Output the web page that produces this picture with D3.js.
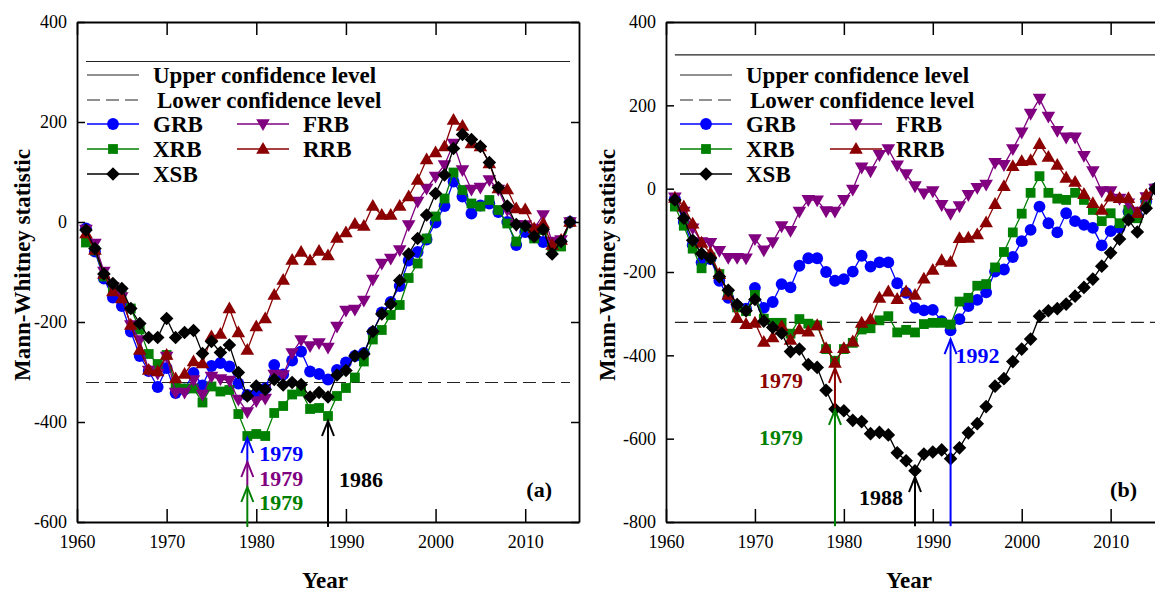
<!DOCTYPE html>
<html>
<head>
<meta charset="utf-8">
<script src="https://cdn.jsdelivr.net/npm/d3@7/dist/d3.min.js"></script>
<style>
  body { margin: 0; background: #fff; }
  svg text { font-family: "Liberation Serif", "Times New Roman", serif; }
</style>
</head>
<body>
<svg id="chart" width="1155" height="594"></svg>
<script>
// ---- data ----
const years = d3.range(1961, 2016);

// panel (a)
const grbA = [-13, -59, -113, -151, -168, -219, -268, -298, -330, -292, -342, -335, -302, -327, -288, -282, -289, -323, -346, -346,
  -333, -286, -305, -277, -259, -299, -304, -315, -296, -281, -268, -262, -220, -181, -160, -128, -77, -60, -35, -1,
  32, 81, 51, 17, 33, 37, 20, 0, -46, -20, -30, -40, -45, -40, 0];
const xrbA = [-41, -57, -109, -136, -139, -173, -215, -264, -284, -266, -326, -333, -333, -361, -329, -339, -336, -384, -428, -424,
  -428, -382, -368, -345, -339, -374, -372, -388, -348, -332, -311, -279, -235, -216, -186, -166, -112, -83, -33, 11,
  47, 99, 64, 37, 31, 44, 24, -3, -39, -9, -33, -16, -49, -49, 0];
const xsbA = [-16, -53, -104, -123, -133, -173, -203, -231, -231, -193, -231, -221, -217, -263, -239, -261, -246, -301, -348, -328,
  -335, -315, -326, -321, -325, -350, -341, -350, -306, -297, -268, -264, -219, -184, -164, -117, -64, -33, 14, 57,
  94, 147, 175, 165, 151, 119, 69, 32, -5, -8, -29, -15, -64, -39, 0];
const frbA = [-15, -43, -99, -130, -150, -206, -236, -297, -303, -269, -341, -341, -316, -345, -309, -314, -317, -355, -380, -358,
  -353, -305, -306, -262, -236, -248, -242, -251, -209, -177, -175, -157, -115, -83, -73, -56, -6, 41, 67, 91,
  114, 157, 104, 65, 69, 84, 65, 24, -6, -6, -13, 14, -39, -36, 0];
const rrbA = [-23, -56, -104, -139, -153, -206, -256, -296, -299, -266, -313, -304, -279, -283, -229, -224, -173, -221, -256, -209,
  -193, -146, -116, -76, -60, -77, -58, -67, -32, -21, -4, -8, 32, 14, 14, 32, 51, 84, 125, 139,
  151, 204, 192, 157, 151, 117, 67, 65, 27, 25, -13, -3, -46, -36, 0];

// panel (b)
const grbB = [-24, -80, -135, -177, -169, -221, -262, -282, -288, -238, -286, -272, -229, -237, -185, -167, -167, -200, -221, -217,
  -199, -161, -187, -177, -177, -227, -250, -286, -292, -291, -318, -340, -313, -282, -267, -249, -199, -194, -164, -126,
  -99, -43, -83, -105, -59, -78, -87, -94, -136, -102, -94, -55, -65, -30, 0];
const xrbB = [-43, -89, -144, -191, -165, -205, -250, -285, -294, -255, -312, -322, -322, -348, -313, -324, -328, -385, -413, -385,
  -370, -338, -335, -316, -306, -345, -339, -345, -325, -322, -322, -326, -271, -262, -233, -229, -189, -152, -105, -60,
  -10, 30, -10, -24, -27, -10, -27, -51, -78, -59, -83, -51, -71, -35, 0];
const xsbB = [-27, -71, -124, -156, -167, -211, -244, -278, -293, -266, -318, -333, -347, -391, -385, -422, -429, -484, -529, -533,
  -556, -559, -588, -585, -591, -634, -653, -677, -637, -632, -627, -648, -622, -586, -564, -523, -474, -456, -415, -385,
  -361, -306, -293, -288, -277, -258, -237, -217, -186, -154, -121, -75, -104, -47, 0];
const frbB = [-21, -55, -95, -128, -130, -149, -166, -166, -167, -121, -148, -128, -90, -101, -55, -27, -28, -54, -55, -27,
  -2, 51, 42, 81, 95, 56, 35, 6, -11, -6, -39, -60, -42, -15, 2, 10, 62, 57, 95, 135,
  180, 216, 173, 139, 123, 123, 79, 42, -6, -6, -24, -35, -55, -20, 0];
const rrbB = [-22, -43, -84, -130, -155, -205, -255, -310, -325, -322, -368, -357, -330, -363, -338, -343, -328, -383, -418, -383,
  -367, -322, -314, -262, -247, -265, -247, -255, -216, -195, -172, -176, -119, -118, -110, -81, -37, 6, 54, 66,
  68, 107, 76, 57, 26, 16, -13, -35, -51, -19, -23, -23, -59, -15, 0];

const confidenceLevels = [321, -321];   // upper, lower
const confidenceYears = [1961, 2015];

const xTickYears = [1960, 1970, 1980, 1990, 2000, 2010];
const yTicksA = [-600, -400, -200, 0, 200, 400];
const yTicksB = [-800, -600, -400, -200, 0, 200, 400];

// change-point arrows: year, arrow tip value, tail value, text
const arrowsA = [
  { year: 1979, tip: -432, tail: -482, label: '1979', series: 'GRB' },
  { year: 1979, tip: -480, tail: -530, label: '1979', series: 'FRB' },
  { year: 1979, tip: -530, tail: -610, label: '1979', series: 'XRB' },
  { year: 1988, tip: -398, tail: -610, label: '1986', series: 'XSB' }
];
const arrowsB = [
  { year: 1979, tip: -430, tail: -526, label: '1979', series: 'RRB' },
  { year: 1979, tip: -531, tail: -810, label: '1979', series: 'XRB' },
  { year: 1988, tip: -692, tail: -810, label: '1988', series: 'XSB' },
  { year: 1992, tip: -361, tail: -810, label: '1992', series: 'GRB' }
];

// ---- styles ----
const seriesStyle = {
  GRB: { color: '#0000ff', marker: 'circle' },
  XRB: { color: '#008000', marker: 'square' },
  XSB: { color: '#000000', marker: 'diamond' },
  FRB: { color: '#800080', marker: 'triangleDown' },
  RRB: { color: '#8b0000', marker: 'triangleUp' }
};
const markerPath = {
  circle: 'M0,-5.9A5.9,5.9 0 1,1 0,5.9A5.9,5.9 0 1,1 0,-5.9Z',
  square: 'M-4.9,-4.9H4.9V4.9H-4.9Z',
  diamond: 'M0,-6.8L6.8,0L0,6.8L-6.8,0Z',
  triangleUp: 'M0,-7L6.8,4.8L-6.8,4.8Z',
  triangleDown: 'M0,7L6.8,-4.8L-6.8,-4.8Z'
};
const drawOrder = ['GRB', 'XRB', 'FRB', 'RRB', 'XSB'];

const svg = d3.select('#chart');

const panels = [
  {
    name: '(a)', left: 77, right: 579, top: 22, bottom: 522,
    yDomain: [-600, 400], yTicks: yTicksA,
    data: { GRB: grbA, XRB: xrbA, XSB: xsbA, FRB: frbA, RRB: rrbA },
    arrows: arrowsA, legendX: 10, titleX: 30,
    // label offsets for each arrow (px): dx from arrow, anchor, center value
    labelPos: [
      { dx: 12, anchor: 'start', at: -462 },
      { dx: 12, anchor: 'start', at: -512 },
      { dx: 12, anchor: 'start', at: -560 },
      { dx: 11, anchor: 'start', at: -514 }
    ]
  },
  {
    name: '(b)', left: 666, right: 1164, top: 22, bottom: 522,
    yDomain: [-800, 400], yTicks: yTicksB,
    data: { GRB: grbB, XRB: xrbB, XSB: xsbB, FRB: frbB, RRB: rrbB },
    arrows: arrowsB, legendX: 14, titleX: 615,
    labelPos: [
      { dx: -32, anchor: 'end', at: -459 },
      { dx: -32, anchor: 'end', at: -596 },
      { dx: -12, anchor: 'end', at: -740 },
      { dx: 5, anchor: 'start', at: -399 }
    ]
  }
];

panels.forEach(p => drawPanel(p));

function drawPanel(p) {
  const x = d3.scaleLinear().domain([1960, 2016]).range([p.left, p.right]);
  const y = d3.scaleLinear().domain(p.yDomain).range([p.bottom, p.top]);
  const g = svg.append('g');

  // axes (ticks pointing inward on all four sides)
  const fmt = d => String(d);
  g.append('g').attr('transform', `translate(0,${p.bottom})`)
    .call(d3.axisBottom(x).tickValues(xTickYears).tickFormat(fmt).tickSizeInner(-13).tickSizeOuter(0).tickPadding(13))
    .call(a => a.selectAll('text').attr('font-family', '"Liberation Serif", serif').attr('font-size', 18).attr('fill', '#000'));
  g.append('g').attr('transform', `translate(0,${p.top})`)
    .call(d3.axisTop(x).tickValues(xTickYears).tickFormat('').tickSizeInner(-13).tickSizeOuter(0));
  g.append('g').attr('transform', `translate(${p.left},0)`)
    .call(d3.axisLeft(y).tickValues(p.yTicks).tickFormat(fmt).tickSizeInner(-8).tickSizeOuter(0).tickPadding(10))
    .call(a => a.selectAll('text').attr('font-family', '"Liberation Sans", Arial, sans-serif').attr('font-size', 18).attr('fill', '#000'));
  g.append('g').attr('transform', `translate(${p.right},0)`)
    .call(d3.axisRight(y).tickValues(p.yTicks).tickFormat('').tickSizeInner(-8).tickSizeOuter(0));
  g.selectAll('.domain').attr('stroke', '#000').attr('stroke-width', 1.8);
  g.selectAll('.tick line').attr('stroke', '#000').attr('stroke-width', 1.5);

  // confidence levels
  g.append('line')
    .attr('x1', x(confidenceYears[0])).attr('x2', x(confidenceYears[1]))
    .attr('y1', y(confidenceLevels[0])).attr('y2', y(confidenceLevels[0]))
    .attr('stroke', '#222').attr('stroke-width', 1.2);
  g.append('line')
    .attr('x1', x(confidenceYears[0])).attr('x2', x(confidenceYears[1]))
    .attr('y1', y(confidenceLevels[1])).attr('y2', y(confidenceLevels[1]))
    .attr('stroke', '#222').attr('stroke-width', 1.2).attr('stroke-dasharray', '13,6');

  // series
  const line = d3.line().x(d => x(d[0])).y(d => y(d[1]));
  drawOrder.forEach(name => {
    const st = seriesStyle[name];
    const pts = years.map((yr, i) => [yr, p.data[name][i]]);
    const sg = g.append('g').attr('class', 'series');
    sg.append('path').attr('d', line(pts))
      .attr('fill', 'none').attr('stroke', st.color).attr('stroke-width', 1.3);
    sg.selectAll('path.pt').data(pts).enter().append('path')
      .attr('class', 'pt')
      .attr('d', markerPath[st.marker])
      .attr('transform', d => `translate(${x(d[0])},${y(d[1])})`)
      .attr('fill', st.color);
  });

  // legend
  const lx = p.left + p.legendX;
  const rowY = [75, 100, 124, 149, 174];
  const lg = g.append('g').attr('class', 'legend');
  const legText = (tx, ty, s) => lg.append('text').attr('x', tx).attr('y', ty).attr('dy', '0.35em')
    .attr('font-size', 23).attr('font-weight', 'bold').attr('fill', '#000').text(s);
  lg.append('line').attr('x1', lx).attr('x2', lx + 52).attr('y1', rowY[0]).attr('y2', rowY[0])
    .attr('stroke', '#222').attr('stroke-width', 1.2);
  legText(lx + 66, rowY[0], 'Upper confidence level');
  lg.append('line').attr('x1', lx).attr('x2', lx + 52).attr('y1', rowY[1]).attr('y2', rowY[1])
    .attr('stroke', '#222').attr('stroke-width', 1.2).attr('stroke-dasharray', '13,6');
  legText(lx + 70, rowY[1], 'Lower confidence level');
  const legendItems = [
    { name: 'GRB', col: 0, row: 2 }, { name: 'FRB', col: 1, row: 2 },
    { name: 'XRB', col: 0, row: 3 }, { name: 'RRB', col: 1, row: 3 },
    { name: 'XSB', col: 0, row: 4 }
  ];
  legendItems.forEach(it => {
    const st = seriesStyle[it.name];
    const x0 = lx + it.col * 150;
    const yy = rowY[it.row];
    lg.append('line').attr('x1', x0).attr('x2', x0 + 52).attr('y1', yy).attr('y2', yy)
      .attr('stroke', st.color).attr('stroke-width', 1.3);
    lg.append('path').attr('d', markerPath[st.marker])
      .attr('transform', `translate(${x0 + 26},${yy})`).attr('fill', st.color);
    legText(x0 + 66, yy, it.name);
  });

  // arrows and change-point labels
  p.arrows.forEach((a, i) => {
    const col = seriesStyle[a.series].color;
    const ax = x(a.year), ty = y(a.tip), ey = y(a.tail);
    g.append('line').attr('x1', ax).attr('x2', ax).attr('y1', ty).attr('y2', ey)
      .attr('stroke', col).attr('stroke-width', 2);
    g.append('path').attr('d', `M${ax - 6},${ty + 15}L${ax},${ty}L${ax + 6},${ty + 15}`)
      .attr('fill', 'none').attr('stroke', col).attr('stroke-width', 2);
    const lp = p.labelPos[i];
    g.append('text').attr('x', ax + lp.dx).attr('y', y(lp.at)).attr('dy', '0.35em')
      .attr('text-anchor', lp.anchor).attr('font-size', 22).attr('font-weight', 'bold')
      .attr('fill', col).text(a.label);
  });

  // panel tag
  g.append('text').attr('x', Math.min(p.right, 1164) - 27).attr('y', 489).attr('dy', '0.35em')
    .attr('text-anchor', 'end').attr('font-size', 22).attr('font-weight', 'bold').text(p.name);

  // axis titles
  g.append('text').attr('x', (p.left + Math.min(p.right, 1158)) / 2 - 3).attr('y', 588)
    .attr('text-anchor', 'middle').attr('font-size', 23).attr('font-weight', 'bold').text('Year');
  g.append('text').attr('transform', `translate(${p.titleX},${265}) rotate(-90)`)
    .attr('text-anchor', 'middle').attr('font-size', 23).attr('font-weight', 'bold').text('Mann-Whitney statistic');
}
</script>
</body>
</html>
